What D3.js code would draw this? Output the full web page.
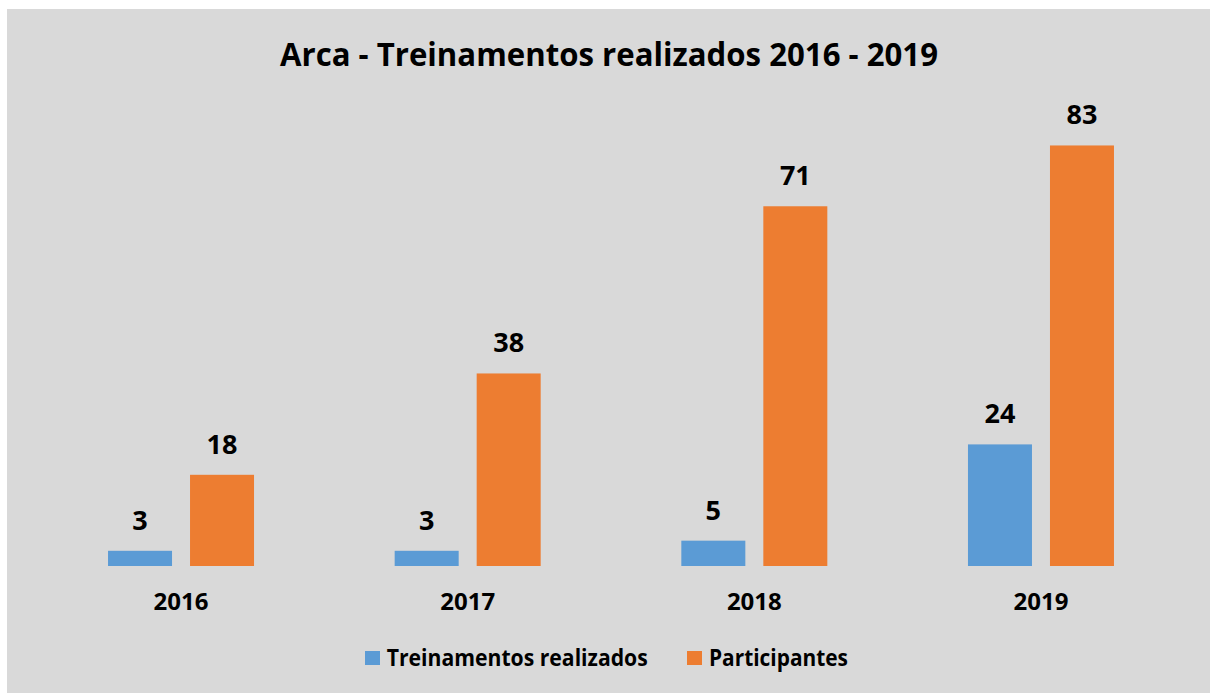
<!DOCTYPE html>
<html>
<head>
<meta charset="utf-8">
<script src="https://cdn.jsdelivr.net/npm/d3@7"></script>
<style>
  html, body { margin: 0; padding: 0; background: #ffffff; }
  svg { display: block; }
  text { font-family: "Open Sans", "Noto Sans", sans-serif; font-weight: 700; fill: #000; }
</style>
</head>
<body>
<svg id="chart" width="1210" height="693"></svg>
<script>
const years = ["2016", "2017", "2018", "2019"];
const seriesNames = ["Treinamentos realizados", "Participantes"];
const treinamentos = [3, 3, 5, 24];
const participantes = [18, 38, 71, 83];
const colors = ["#5b9bd5", "#ed7d31"];
const title = "Arca - Treinamentos realizados 2016 - 2019";

const svg = d3.select("#chart");

svg.append("rect")
  .attr("x", 7).attr("y", 9)
  .attr("width", 1203).attr("height", 684)
  .attr("fill", "#d9d9d9");

svg.append("text")
  .attr("x", 609).attr("y", 66)
  .attr("text-anchor", "middle")
  .attr("font-size", 32)
  .attr("textLength", 658)
  .attr("lengthAdjust", "spacingAndGlyphs")
  .text(title);

const x0 = d3.scaleBand().domain(years).range([37.7, 1184.3]).padding(0);
const groupW = 146;
const off = (x0.bandwidth() - groupW) / 2;
const x1 = d3.scaleBand().domain(seriesNames).range([off, off + groupW]).paddingInner(0.2195).paddingOuter(0);
const y = d3.scaleLinear().domain([0, 90]).range([566, 110]);

const data = years.map((yr, i) => ({
  year: yr,
  values: [
    { name: seriesNames[0], value: treinamentos[i], color: colors[0] },
    { name: seriesNames[1], value: participantes[i], color: colors[1] }
  ]
}));

const groups = svg.selectAll("g.grp").data(data).enter().append("g")
  .attr("class", "grp")
  .attr("transform", d => `translate(${x0(d.year)},0)`);

groups.selectAll("rect").data(d => d.values).enter().append("rect")
  .attr("x", d => x1(d.name))
  .attr("y", d => y(d.value))
  .attr("width", x1.bandwidth())
  .attr("height", d => y(0) - y(d.value))
  .attr("fill", d => d.color);

groups.selectAll("text.val").data(d => d.values).enter().append("text")
  .attr("class", "val")
  .attr("x", d => x1(d.name) + x1.bandwidth() / 2)
  .attr("y", d => y(d.value) - 21)
  .attr("text-anchor", "middle")
  .attr("font-size", 27)
  .text(d => d.value);

// category axis labels
const xAxis = d3.axisBottom(x0).tickSize(0).tickPadding(0);
const axisG = svg.append("g").attr("transform", "translate(0,566)").call(xAxis);
axisG.select(".domain").remove();
axisG.selectAll("text")
  .attr("y", 44).attr("dy", null)
  .attr("font-size", 24)
  .style("font-family", '"Open Sans", "Noto Sans", sans-serif')
  .style("font-weight", 700)
  .attr("fill", "#000");

// legend
const legendItems = [
  { name: seriesNames[0], color: colors[0], sx: 365, tx: 386.7, tw: 261 },
  { name: seriesNames[1], color: colors[1], sx: 687, tx: 709, tw: 139 }
];
const lg = svg.append("g");
legendItems.forEach(it => {
  lg.append("rect").attr("x", it.sx).attr("y", 651).attr("width", 15).attr("height", 14).attr("fill", it.color);
  lg.append("text").attr("x", it.tx).attr("y", 665.5)
    .attr("font-size", 24)
    .attr("textLength", it.tw)
    .attr("lengthAdjust", "spacingAndGlyphs")
    .text(it.name);
});
</script>
</body>
</html>
